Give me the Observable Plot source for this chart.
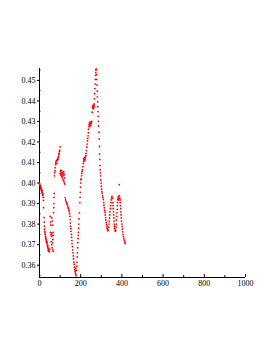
<!DOCTYPE html>
<html>
<head>
<meta charset="utf-8">
<script src="https://cdn.jsdelivr.net/npm/d3@7"></script>
<script src="https://cdn.jsdelivr.net/npm/@observablehq/plot@0.6"></script>
<style>
  html, body { margin: 0; padding: 0; background: #fff; }
  #chart svg { display: block; }
</style>
</head>
<body>
<div id="chart"></div>
<script>
// Tick values
const xMajorTicks = [0, 200, 400, 600, 800, 1000];
const xMinorTicks = [100, 300, 500, 700, 900];
const yMajorTicks = [0.36, 0.37, 0.38, 0.39, 0.40, 0.41, 0.42, 0.43, 0.44, 0.45];
const yMinorTicks = [0.355, 0.365, 0.375, 0.385, 0.395, 0.405, 0.415, 0.425, 0.435, 0.445, 0.455];
const xDomain = [0, 1000];
const yDomain = [0.354, 0.4558];

// Data runs [x, y]
const run1 = [[0,0.400],[1,0.3995],[2,0.399],[3,0.3985],[4,0.3988],[5,0.398],[6,0.3975],[7,0.3978],[8,0.397],[9,0.3965],[10,0.3968],[11,0.396],[12,0.3955],[13,0.3962],[14,0.395],[15,0.3945],[16,0.3948],[17,0.394],[18,0.393],[19,0.3915],[20,0.388],[22,0.3832],[23,0.381],[24,0.379],[25,0.3775],[26,0.3765],[27,0.3758],[28,0.375],[29,0.3742],[30,0.3735],[31,0.373],[32,0.3724],[33,0.3718],[34,0.3712],[35,0.371],[36,0.3705],[37,0.3712],[38,0.3698],[39,0.369],[40,0.3695],[41,0.3685],[42,0.368],[43,0.3672],[44,0.3668],[46,0.3675],[48,0.3665],[50,0.3678]];
const run2 = [[52,0.3837],[54,0.381],[55,0.3795],[53,0.376],[56,0.375],[58,0.374],[60,0.3757],[62,0.3745],[57,0.3715],[59,0.370],[61,0.3685],[63,0.371],[64,0.3675],[66,0.3668],[65,0.3725],[60,0.383],[62,0.3815],[64,0.3795],[66,0.376],[67,0.3745],[68,0.3855],[69,0.388],[70,0.390],[71,0.393],[72,0.395],[73,0.4035],[74,0.405],[75,0.406]];
const run3 = [[76,0.4075],[78,0.409],[79,0.4098],[81,0.4105],[83,0.411],[85,0.4095],[86,0.4112],[88,0.4118],[90,0.4125],[91,0.4115],[93,0.413],[94,0.4138],[95,0.4145],[97,0.4153],[98,0.416],[100,0.4176],[100,0.4045],[102,0.4055],[104,0.4038],[106,0.4048],[108,0.4032],[110,0.4042],[112,0.4052],[114,0.4035],[116,0.4045],[118,0.4055],[120,0.404],[122,0.4025],[103,0.4062],[107,0.406],[111,0.4025],[115,0.4015],[119,0.4008],[121,0.400],[123,0.3995]];
const run4 = [[125,0.3928],[127,0.3918],[129,0.391],[131,0.3905],[133,0.390],[135,0.3895],[137,0.3888],[139,0.388],[141,0.3875],[143,0.3868],[145,0.386],[147,0.385],[148,0.3838],[149,0.3822],[150,0.3805],[151,0.379],[152,0.3778],[153,0.3765],[155,0.375],[156,0.3735],[157,0.372],[158,0.3705],[160,0.369],[161,0.3675],[163,0.366],[164,0.3645],[165,0.363],[167,0.3615],[168,0.3605],[170,0.359],[171,0.3578],[173,0.357],[174,0.3562],[176,0.3555],[178,0.3548],[175,0.3585],[177,0.3575]];
const run5 = [[180,0.3575],[181,0.3595],[182,0.3615],[183,0.364],[184,0.366],[185,0.3685],[186,0.371],[187,0.373],[188,0.3745],[189,0.376],[190,0.378],[191,0.380],[192,0.3825],[194,0.3855],[196,0.3905],[197,0.393],[198,0.3955],[199,0.398],[200,0.400],[201,0.4016],[202,0.402],[204,0.4035],[205,0.4048],[207,0.4058],[209,0.4065],[211,0.408]];
const run6 = [[213,0.4095],[214,0.4105],[215,0.4115],[216,0.412],[218,0.4108],[219,0.4125],[220,0.4112],[222,0.4118],[224,0.4128],[225,0.4135],[226,0.4145],[228,0.4158],[230,0.4175],[231,0.419],[233,0.4205],[234,0.4218],[236,0.423],[237,0.4245],[238,0.4262],[240,0.4275],[241,0.4285],[242,0.4292],[244,0.4282],[245,0.4298],[246,0.4278],[248,0.4288],[250,0.4295],[252,0.429],[254,0.430],[256,0.4345],[257,0.437],[259,0.4365],[260,0.4378],[261,0.4362],[262,0.4372],[263,0.438],[264,0.4368],[265,0.4385],[266,0.4375],[267,0.441],[268,0.4435],[269,0.446],[270,0.4482],[271,0.4505],[272,0.4525],[273,0.4538],[274,0.455],[275,0.4556]];
const run7 = [[277,0.4528],[278,0.4505],[279,0.4478],[280,0.4448],[281,0.442],[282,0.4395],[283,0.4372],[284,0.4348],[285,0.4325],[286,0.430],[287,0.4278],[289,0.4248],[290,0.4215],[291,0.4178],[292,0.4142],[293,0.4115],[294,0.4085],[295,0.4065],[296,0.405],[297,0.4035],[298,0.4015],[299,0.400],[300,0.3985],[302,0.397],[303,0.3958],[305,0.395],[306,0.3938],[308,0.393],[310,0.392],[312,0.3905],[313,0.3892],[315,0.388],[316,0.3868],[318,0.3858],[319,0.3845],[321,0.3832],[322,0.382],[324,0.3808],[325,0.3798],[327,0.3788],[328,0.378],[330,0.3775],[332,0.3768],[334,0.3772]];
const run8 = [[336,0.3785],[337,0.380],[338,0.3815],[340,0.383],[341,0.3845],[342,0.386],[344,0.3875],[345,0.389],[347,0.3905],[348,0.3918],[350,0.3928],[352,0.3935],[354,0.3925],[356,0.3905],[357,0.389],[358,0.3875],[359,0.386],[360,0.3845],[361,0.383],[362,0.3815],[363,0.380],[364,0.379],[365,0.378],[367,0.3772],[368,0.3765],[370,0.377]];
const run9 = [[372,0.3785],[373,0.380],[374,0.382],[375,0.3838],[376,0.3855],[377,0.3872],[378,0.389],[379,0.3905],[380,0.392],[381,0.3928],[383,0.3918],[384,0.3935],[386,0.3925],[387,0.3992],[388,0.3938],[390,0.3925],[391,0.3918],[392,0.3905],[393,0.389],[394,0.3875],[395,0.386],[396,0.3845],[397,0.383],[398,0.3815],[400,0.380],[401,0.3788],[402,0.3775],[404,0.3762],[406,0.3748],[408,0.3738],[410,0.3728],[412,0.372],[414,0.3712],[416,0.3705]];

const points = [run1, run2, run3, run4, run5, run6, run7, run8, run9].flat().map(([x, y]) => ({x, y}));

const W = 273, H = 353;
const mL = 39, mR = 28, mT = 68, mB = 76;
const plotH = H - mT - mB, plotW = W - mL - mR;

const chart = Plot.plot({
  width: W,
  height: H,
  marginLeft: mL,
  marginRight: mR,
  marginTop: mT,
  marginBottom: mB,
  style: {fontFamily: "'Liberation Serif', 'Times New Roman', serif", fontSize: "8px", color: "#000", background: "#fff"},
  x: {domain: xDomain, label: null},
  y: {domain: yDomain, label: null},
  marks: [
    // axis lines
    Plot.ruleX([xDomain[0]], {stroke: "#000", strokeWidth: 1}),
    Plot.ruleY([yDomain[0]], {stroke: "#000", strokeWidth: 1}),
    // x ticks pointing up
    Plot.ruleX(xMajorTicks, {stroke: "#000", insetTop: plotH - 3}),
    Plot.ruleX(xMinorTicks, {stroke: "#000", insetTop: plotH - 2}),
    Plot.axisX({ticks: xMajorTicks, tickSize: 0, tickPadding: 3, tickFormat: d3.format("d"), fill: "#000", label: null}),
    // y ticks
    Plot.axisY({ticks: yMajorTicks, tickSize: 2, tickPadding: 2, tickFormat: d3.format(".2f"), fill: "#000", stroke: "#000", label: null}),
    Plot.ruleY(yMinorTicks, {stroke: "#000", insetRight: plotW - 1.5}),
    // data
    Plot.dot(points, {x: "x", y: "y", r: 0.9, fill: "#ff0000", stroke: null})
  ]
});
document.getElementById("chart").append(chart);
</script>
</body>
</html>
